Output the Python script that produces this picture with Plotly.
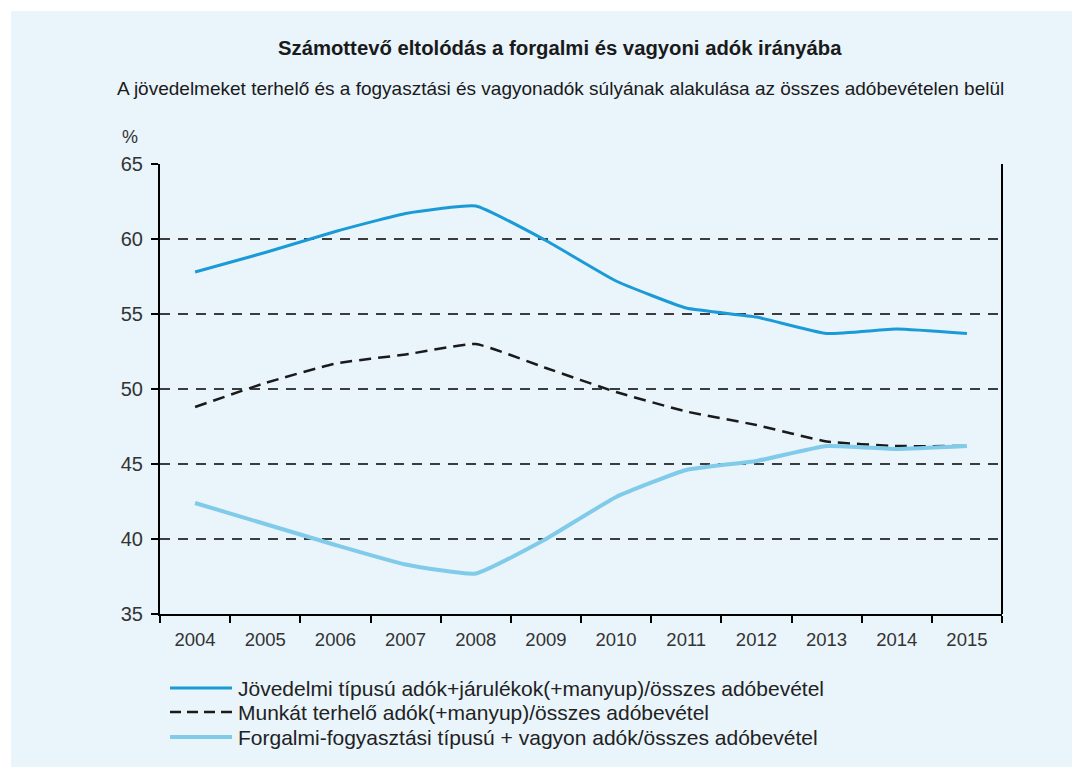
import plotly.graph_objects as go

years = ["2004", "2005", "2006", "2007", "2008", "2009", "2010", "2011", "2012", "2013", "2014", "2015"]
jovedelmi = [57.8, 59.1, 60.5, 61.7, 62.2, 59.9, 57.2, 55.4, 54.8, 53.7, 54.0, 53.7]
munkat = [48.8, 50.4, 51.7, 52.3, 53.0, 51.4, 49.8, 48.5, 47.6, 46.5, 46.2, 46.2]
forgalmi = [42.4, 41.0, 39.6, 38.3, 37.7, 40.0, 42.8, 44.6, 45.2, 46.2, 46.0, 46.2]

names = [
    "Jövedelmi típusú adók+járulékok(+manyup)/összes adóbevétel",
    "Munkát terhelő adók(+manyup)/összes adóbevétel",
    "Forgalmi-fogyasztási típusú + vagyon adók/összes adóbevétel",
]

styles = [
    dict(color="#1b9ad8", width=3),
    dict(color="#1a1a1a", width=2.5, dash="12px,7px"),
    dict(color="#80cbea", width=4),
]
series = [jovedelmi, munkat, forgalmi]

BG = "#e9f4fb"
pw = 842.0
ph = 450.0

fig = go.Figure()
for nm, vals, st in zip(names, series, styles):
    fig.add_trace(go.Scatter(x=years, y=vals, name=nm, mode="lines", showlegend=False,
                             line=dict(shape="spline", smoothing=0.4, **st)))

shapes = [
    dict(type="rect", xref="paper", yref="paper",
         x0=-(160 - 11) / pw, x1=(1072 - 160) / pw + 0.01,
         y0=-(153) / ph - 0.01, y1=(164 - 11) / ph + 1,
         fillcolor=BG, line=dict(width=0), layer="below"),
    dict(type="line", xref="paper", yref="paper", x0=1, x1=1, y0=0, y1=1,
         line=dict(color="black", width=2)),
]
annotations = [
    dict(text="<b>Számottevő eltolódás a forgalmi és vagyoni adók irányába</b>",
         xref="paper", yref="paper", x=(560 - 160) / pw, y=1 + (164 - 48) / ph,
         xanchor="center", yanchor="middle", showarrow=False,
         font=dict(size=20.3, color="#1a1a1a")),
    dict(text="A jövedelmeket terhelő és a fogyasztási és vagyonadók súlyának alakulása az összes adóbevételen belül",
         xref="paper", yref="paper", x=(560 - 160) / pw, y=1 + (164 - 88) / ph,
         xanchor="center", yanchor="middle", showarrow=False,
         font=dict(size=19, color="#1a1a1a")),
    dict(text="%", xref="paper", yref="paper", x=(130 - 160) / pw, y=1 + (164 - 137) / ph,
         xanchor="center", yanchor="middle", showarrow=False,
         font=dict(size=18, color="#333")),
]

# legend (keys + labels) below the plot
legend_rows = [688, 712, 737]
for nm, st, ry in zip(names, styles, legend_rows):
    yy = -(ry - 614) / ph
    key_style = dict(st)
    if "dash" in key_style:
        key_style["dash"] = "11px,6px"
    shapes.append(dict(type="line", xref="paper", yref="paper",
                       x0=(170 - 160) / pw, x1=(232 - 160) / pw, y0=yy, y1=yy,
                       line=key_style))
    annotations.append(dict(text=nm, xref="paper", yref="paper",
                            x=(236 - 160) / pw, y=yy, xanchor="left", yanchor="middle",
                            showarrow=False, font=dict(size=21, color="#222")))

fig.update_layout(
    width=1072, height=767,
    margin=dict(l=160, r=70, t=164, b=153),
    paper_bgcolor="white",
    plot_bgcolor="rgba(0,0,0,0)",
    font=dict(family="Liberation Sans, Arial, sans-serif", color="#2b2b2b"),
    showlegend=False,
    xaxis=dict(type="category", range=[-0.5, 11.5], showline=True, linecolor="black", linewidth=2,
               ticks="outside", tickson="boundaries", ticklen=7, tickcolor="black", tickwidth=2,
               ticklabelstandoff=8,
               tickfont=dict(size=18.5, color="#333"), showgrid=False, fixedrange=True),
    yaxis=dict(range=[35, 65], dtick=5, tick0=35, showline=True, linecolor="black", linewidth=2,
               ticks="outside", ticklen=7, tickcolor="black", tickwidth=2,
               ticklabelstandoff=4,
               tickfont=dict(size=20, color="#333"),
               showgrid=True, gridcolor="#3c3c3c", gridwidth=2, griddash="10px,8px",
               zeroline=False),
    shapes=shapes,
    annotations=annotations,
)

fig.write_html("out.html", post_script="document.body.style.margin='0';",
               config={"displayModeBar": False})
